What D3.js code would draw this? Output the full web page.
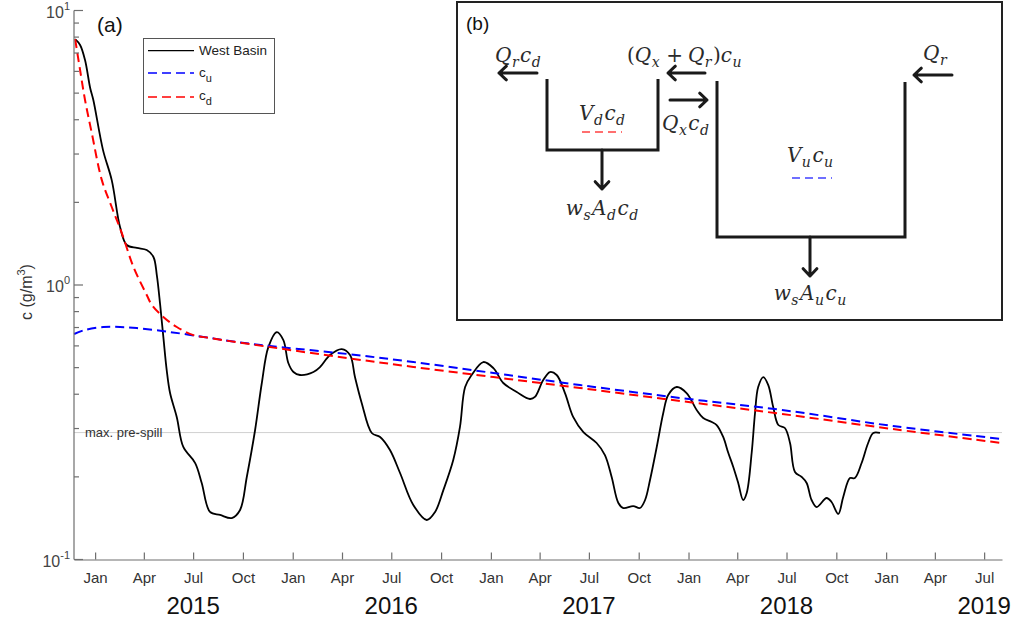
<!DOCTYPE html>
<html>
<head>
<meta charset="utf-8">
<script src="https://cdn.jsdelivr.net/npm/d3@7"></script>
<style>
  body { margin: 0; background: #fff; }
  svg { display: block; }
  text { font-family: "Liberation Sans", Arial, sans-serif; }
  .math { font-family: "DejaVu Serif", "Liberation Serif", serif; font-style: italic; fill: #2a2a2a; }
</style>
</head>
<body>
<svg id="chart" width="1015" height="623"></svg>
<script>
// ---- data: time in decimal years, concentration in g/m^3 ----
const westTime = [2014.899, 2014.924, 2014.949, 2014.975, 2014.991, 2015.040, 2015.084, 2015.126, 2015.160, 2015.211,
  2015.261, 2015.295, 2015.312, 2015.329, 2015.345, 2015.362, 2015.379, 2015.413, 2015.446, 2015.506,
  2015.539, 2015.581, 2015.632, 2015.691, 2015.733, 2015.767, 2015.809, 2015.843, 2015.876, 2015.919,
  2015.952, 2015.977, 2016.003, 2016.036, 2016.104, 2016.138, 2016.188, 2016.247, 2016.289, 2016.314,
  2016.348, 2016.399, 2016.441, 2016.491, 2016.542, 2016.609, 2016.677, 2016.719, 2016.761, 2016.811,
  2016.845, 2016.871, 2016.904, 2016.963, 2017.014, 2017.064, 2017.132, 2017.199, 2017.224, 2017.266,
  2017.300, 2017.334, 2017.376, 2017.418, 2017.469, 2017.536, 2017.578, 2017.612, 2017.646, 2017.671,
  2017.721, 2017.755, 2017.781, 2017.806, 2017.840, 2017.873, 2017.898, 2017.941, 2017.991, 2018.042,
  2018.075, 2018.118, 2018.143, 2018.176, 2018.202, 2018.227, 2018.252, 2018.277, 2018.295, 2018.320,
  2018.337, 2018.353, 2018.379, 2018.404, 2018.429, 2018.455, 2018.488, 2018.514, 2018.539, 2018.573,
  2018.598, 2018.623, 2018.649, 2018.699, 2018.724, 2018.758, 2018.783, 2018.817, 2018.842, 2018.876,
  2018.909, 2018.935, 2018.969];
const westConc = [7.86, 7.49, 6.60, 5.22, 4.72, 3.10, 2.41, 1.626, 1.399, 1.364,
  1.341, 1.265, 1.087, 0.846, 0.647, 0.490, 0.404, 0.330, 0.257, 0.2246,
  0.190, 0.149, 0.1453, 0.1416, 0.1515, 0.1998, 0.2963, 0.4395, 0.594, 0.674,
  0.630, 0.520, 0.482, 0.470, 0.482, 0.503, 0.556, 0.584, 0.556, 0.462,
  0.372, 0.289, 0.2795, 0.2506, 0.2066, 0.158, 0.1393, 0.149, 0.179, 0.2304,
  0.304, 0.425, 0.470, 0.524, 0.498, 0.4395, 0.4076, 0.3843, 0.391, 0.4507,
  0.482, 0.470, 0.404, 0.330, 0.2913, 0.2657, 0.2402, 0.1998, 0.1606, 0.154,
  0.1566, 0.154, 0.1647, 0.1949, 0.257, 0.3418, 0.3975, 0.425, 0.404, 0.3505,
  0.3277, 0.3169, 0.309, 0.2795, 0.2443, 0.2173, 0.190, 0.1647, 0.1747, 0.2443,
  0.3418, 0.425, 0.462, 0.432, 0.3593, 0.309, 0.3013, 0.2657, 0.2084, 0.1998,
  0.190, 0.1647, 0.1553, 0.1675, 0.162, 0.1465, 0.169, 0.198, 0.198, 0.2246,
  0.2657, 0.289, 0.289];

// upstream basin model, c_u
const cuTime = [2014.894, 2014.949, 2015.042, 2015.126, 2015.211, 2015.379, 2015.548, 2015.716, 2015.935,
  2016.273, 2016.609, 2017.014, 2017.452, 2017.958, 2018.474, 2019.034, 2019.585];
const cuConc = [0.663, 0.686, 0.703, 0.703, 0.697, 0.674, 0.647, 0.620, 0.594,
  0.561, 0.524, 0.478, 0.432, 0.3877, 0.3505, 0.3064, 0.2748];

// downstream basin model, c_d
const cdTime = [2014.899, 2014.924, 2014.949, 2014.983, 2015.034, 2015.084, 2015.135, 2015.194, 2015.261,
  2015.287, 2015.345, 2015.413, 2015.497, 2015.581, 2015.885, 2016.273, 2016.609, 2017.014, 2017.452,
  2017.958, 2018.474, 2019.034, 2019.585];
const cdConc = [7.86, 6.07, 4.72, 3.58, 2.41, 1.924, 1.546, 1.163, 0.920,
  0.846, 0.765, 0.703, 0.657, 0.641, 0.594, 0.542, 0.503, 0.462, 0.4214,
  0.378, 0.339, 0.2987, 0.2657];

const preSpillMax = 0.29;
const yMajorTicks = [0.1, 1, 10];
const yMajorExponents = ["-1", "0", "1"];
const yearLabels = ["2015", "2016", "2017", "2018", "2019"];
const legendNames = ["West Basin", "c", "c"];
const legendSubs = ["", "u", "d"];

// ---- layout ----
const svg = d3.select("#chart");
const toDate = t => new Date(Date.UTC(2015, 0, 1) + (t - 2015) * 365.25 * 86400000);

const x = d3.scaleUtc()
  .domain([new Date(Date.UTC(2014, 10, 23)), new Date(Date.UTC(2019, 7, 3))])
  .range([74, 1002]);
const y = d3.scaleLog().domain([0.1, 10]).range([559.5, 10.5]);

const axisColor = "#6e6e6e";
const labelColor = "#333";

// reference level
svg.append("line")
  .attr("x1", x.range()[0]).attr("x2", x.range()[1])
  .attr("y1", y(preSpillMax)).attr("y2", y(preSpillMax))
  .attr("stroke", "#d0d0d0").attr("stroke-width", 1);
svg.append("text")
  .attr("x", 85).attr("y", y(preSpillMax) + 4.5)
  .attr("font-size", 13).attr("fill", labelColor)
  .text("max. pre-spill");

// series
const line = d3.line().x(d => x(toDate(d[0]))).y(d => y(d[1])).curve(d3.curveCatmullRom.alpha(0.5));
const zip = (a, b) => a.map((t, i) => [t, b[i]]);

svg.append("path").attr("d", line(zip(westTime, westConc)))
  .attr("fill", "none").attr("stroke", "#000").attr("stroke-width", 1.8);
svg.append("path").attr("d", line(zip(cuTime, cuConc)))
  .attr("fill", "none").attr("stroke", "#0000ff").attr("stroke-width", 2)
  .attr("stroke-dasharray", "9,5");
svg.append("path").attr("d", line(zip(cdTime, cdConc)))
  .attr("fill", "none").attr("stroke", "#ff0000").attr("stroke-width", 2)
  .attr("stroke-dasharray", "9,5");

// x axis: quarterly month ticks, pointing inward
const xAxis = d3.axisBottom(x)
  .ticks(d3.utcMonth.every(3))
  .tickFormat(d3.utcFormat("%b"))
  .tickSizeInner(-7).tickSizeOuter(0).tickPadding(13);
const gx = svg.append("g").attr("transform", "translate(0,559.5)").call(xAxis);
gx.select(".domain").attr("stroke", axisColor).attr("stroke-width", 1.2);
gx.selectAll(".tick line").attr("stroke", axisColor).attr("stroke-width", 1.2);
gx.selectAll(".tick text").attr("font-size", 15).attr("fill", labelColor)
  .attr("font-family", "'Liberation Sans', Arial, sans-serif");

// year labels centred under each July
svg.append("g").selectAll("text").data(yearLabels).join("text")
  .attr("x", d => x(new Date(Date.UTC(+d, 6, 1))))
  .attr("y", 614)
  .attr("text-anchor", "middle").attr("font-size", 24).attr("fill", "#111")
  .text(d => d);

// y axis: log scale with inward minor ticks
const gy = svg.append("g");
gy.append("line").attr("x1", 74).attr("x2", 74)
  .attr("y1", y.range()[1]).attr("y2", y.range()[0])
  .attr("stroke", axisColor).attr("stroke-width", 1.2);
gy.selectAll("line.tick").data(y.ticks()).join("line")
  .attr("class", "tick")
  .attr("x1", 74)
  .attr("x2", d => 74 + (yMajorTicks.some(m => Math.abs(m - d) < 1e-9) ? 9 : 5))
  .attr("y1", d => y(d)).attr("y2", d => y(d))
  .attr("stroke", axisColor).attr("stroke-width", 1.2);
const yl = gy.selectAll("text.tl").data(yMajorTicks).join("text")
  .attr("class", "tl")
  .attr("x", 70).attr("y", d => y(d) + 7)
  .attr("text-anchor", "end").attr("font-size", 16).attr("fill", "#444");
yl.append("tspan").text("10");
yl.append("tspan").attr("font-size", 11).attr("dy", -8).text((d, i) => yMajorExponents[i]);

// y axis title
const yt = svg.append("text")
  .attr("transform", "translate(32,292) rotate(-90)")
  .attr("text-anchor", "middle").attr("font-size", 16).attr("fill", labelColor);
yt.append("tspan").text("c (g/m");
yt.append("tspan").attr("font-size", 11).attr("dy", -7).text("3");
yt.append("tspan").attr("dy", 7).text(")");

// panel label
svg.append("text").attr("x", 97).attr("y", 32).attr("font-size", 21).attr("fill", "#111").text("(a)");

// legend
const lg = svg.append("g");
lg.append("rect").attr("x", 143.5).attr("y", 38.5).attr("width", 131).attr("height", 75)
  .attr("fill", "#fff").attr("stroke", "#555").attr("stroke-width", 1);
const legendStyles = [
  { color: "#000", dash: null, ly: 50.7, ty: 55 },
  { color: "#0000ff", dash: "9,5", ly: 73, ty: 77 },
  { color: "#ff0000", dash: "9,5", ly: 97, ty: 100 }
];
legendStyles.forEach((s, i) => {
  lg.append("line").attr("x1", 148).attr("x2", 194).attr("y1", s.ly).attr("y2", s.ly)
    .attr("stroke", s.color).attr("stroke-width", i === 0 ? 1.3 : 1.5)
    .attr("stroke-dasharray", s.dash);
  const t = lg.append("text").attr("x", 199).attr("y", s.ty).attr("font-size", 13.5).attr("fill", "#222");
  t.append("tspan").text(legendNames[i]);
  if (legendSubs[i]) t.append("tspan").attr("font-size", 11).attr("dy", 5).text(legendSubs[i]);
});

// ---- panel (b): two-basin box model ----
const inset = svg.append("g");
inset.append("rect").attr("x", 457).attr("y", 2).attr("width", 545).attr("height", 318)
  .attr("fill", "#fff").attr("stroke", "#222").attr("stroke-width", 2);
inset.append("text").attr("x", 466).attr("y", 30).attr("font-size", 19).attr("fill", "#111").text("(b)");

// math label: parts of [text, kind]
// kind i = italic, r = roman, o = roman binary operator (spaced), s = subscript
function mathLabel(px, py, parts, anchor) {
  const t = inset.append("text").attr("class", "math").attr("x", px).attr("y", py)
    .attr("text-anchor", anchor || "start").attr("font-size", 20);
  let shifted = false, pad = 0;
  parts.forEach(([txt, kind]) => {
    const sp = t.append("tspan").text(txt);
    let dx = pad;
    pad = 0;
    if (kind === "s") {
      sp.attr("font-size", 14);
      if (!shifted) { sp.attr("dy", 5); shifted = true; }
      dx += 0.5;
    } else {
      if (shifted) { sp.attr("dy", -5); shifted = false; dx += 1.5; }
      if (kind === "r" || kind === "o") sp.attr("font-style", "normal");
      if (kind === "o") { dx += 5; pad = 5; }
    }
    if (dx) sp.attr("dx", dx);
  });
  return t;
}

mathLabel(495, 62, [["Q", "i"], ["r", "s"], ["c", "i"], ["d", "s"]]);
mathLabel(627, 62, [["(", "r"], ["Q", "i"], ["x", "s"], ["+", "o"], ["Q", "i"], ["r", "s"], [")", "r"], ["c", "i"], ["u", "s"]]);
mathLabel(923, 60, [["Q", "i"], ["r", "s"]]);
mathLabel(602, 120, [["V", "i"], ["d", "s"], ["c", "i"], ["d", "s"]], "middle");
mathLabel(662, 130, [["Q", "i"], ["x", "s"], ["c", "i"], ["d", "s"]]);
mathLabel(602, 215, [["w", "i"], ["s", "s"], ["A", "i"], ["d", "s"], ["c", "i"], ["d", "s"]], "middle");
mathLabel(810, 162, [["V", "i"], ["u", "s"], ["c", "i"], ["u", "s"]], "middle");
mathLabel(810, 300, [["w", "i"], ["s", "s"], ["A", "i"], ["u", "s"], ["c", "i"], ["u", "s"]], "middle");

// basin outlines
const ink = "#1a1a1a";
inset.append("path").attr("d", "M547,79 V150 H658 V79")
  .attr("fill", "none").attr("stroke", ink).attr("stroke-width", 3);
inset.append("path").attr("d", "M717,81 V237 H905 V82")
  .attr("fill", "none").attr("stroke", ink).attr("stroke-width", 3);

// arrows: from (x1,y1) to (x2,y2) with an open head
function arrow(x1, y1, x2, y2) {
  const a = Math.atan2(y2 - y1, x2 - x1), h = 10, w = 0.75;
  const p1 = [x2 - h * Math.cos(a - w), y2 - h * Math.sin(a - w)];
  const p2 = [x2 - h * Math.cos(a + w), y2 - h * Math.sin(a + w)];
  inset.append("path")
    .attr("d", `M${x1},${y1} L${x2},${y2} M${p1[0]},${p1[1]} L${x2},${y2} L${p2[0]},${p2[1]}`)
    .attr("fill", "none").attr("stroke", ink).attr("stroke-width", 3)
    .attr("stroke-linecap", "round").attr("stroke-linejoin", "round");
}
arrow(537, 73, 499, 73);
arrow(705, 73, 668, 73);
arrow(670, 100, 707, 100);
arrow(952, 75, 914, 75);
arrow(602, 150, 602, 189);
arrow(810, 237, 810, 276);

// dashed keys under the basin labels
inset.append("line").attr("x1", 582).attr("x2", 622).attr("y1", 132).attr("y2", 132)
  .attr("stroke", "#ff4040").attr("stroke-width", 1.5).attr("stroke-dasharray", "8,5");
inset.append("line").attr("x1", 792).attr("x2", 832).attr("y1", 178).attr("y2", 178)
  .attr("stroke", "#4040ff").attr("stroke-width", 1.5).attr("stroke-dasharray", "8,5");
</script>
</body>
</html>
